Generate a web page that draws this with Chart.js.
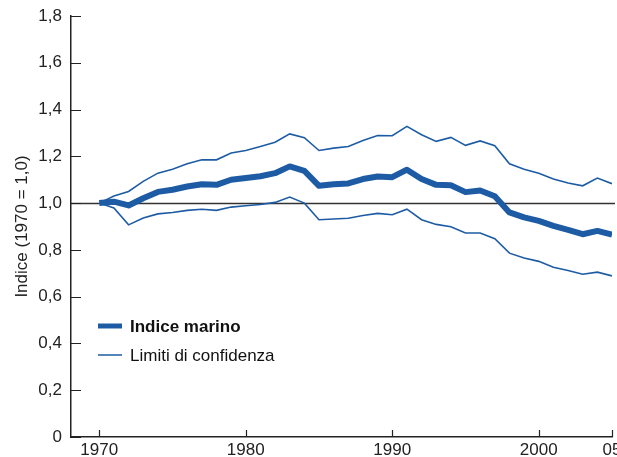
<!DOCTYPE html>
<html>
<head>
<meta charset="utf-8">
<script src="https://cdn.jsdelivr.net/npm/chart.js@4.4.0/dist/chart.umd.min.js"></script>
<style>
  html, body { margin: 0; padding: 0; background: #fff; }
  #wrap { width: 617px; height: 457px; }
</style>
</head>
<body>
<div id="wrap"><canvas id="lineChart"></canvas></div>
<script>
const years = [1970, 1971, 1972, 1973, 1974, 1975, 1976, 1977, 1978, 1979,
  1980, 1981, 1982, 1983, 1984, 1985, 1986, 1987, 1988, 1989,
  1990, 1991, 1992, 1993, 1994, 1995, 1996, 1997, 1998, 1999,
  2000, 2001, 2002, 2003, 2004, 2005];

const indiceMarino = [1.0, 1.006, 0.99, 1.021, 1.048, 1.057, 1.071, 1.081, 1.078, 1.10,
  1.107, 1.115, 1.128, 1.157, 1.138, 1.074, 1.081, 1.084, 1.103, 1.114,
  1.111, 1.143, 1.103, 1.078, 1.076, 1.047, 1.054, 1.029, 0.96, 0.939,
  0.924, 0.903, 0.886, 0.867, 0.881, 0.865];

const limiteSuperiore = [1.0, 1.03, 1.05, 1.093, 1.128, 1.145, 1.168, 1.185, 1.185, 1.214,
  1.225, 1.242, 1.26, 1.296, 1.28, 1.225, 1.235, 1.242, 1.268, 1.289,
  1.288, 1.328, 1.292, 1.264, 1.281, 1.247, 1.266, 1.245, 1.168, 1.145,
  1.128, 1.103, 1.086, 1.074, 1.107, 1.083];

const limiteInferiore = [1.0, 0.979, 0.907, 0.936, 0.954, 0.96, 0.969, 0.974, 0.969, 0.983,
  0.989, 0.994, 1.003, 1.026, 1.0, 0.929, 0.932, 0.935, 0.947, 0.956,
  0.95, 0.974, 0.929, 0.909, 0.899, 0.872, 0.872, 0.848, 0.786, 0.765,
  0.751, 0.726, 0.712, 0.696, 0.705, 0.689];

const xTicks = [1970, 1980, 1990, 2000, 2005];
const yTicks = [0, 0.2, 0.4, 0.6, 0.8, 1.0, 1.2, 1.4, 1.6, 1.8];

const BLU = "#1d5ca4";
const FONT = "'Liberation Sans', Arial, Helvetica, sans-serif";

Chart.defaults.font.family = FONT;
Chart.defaults.font.size = 17;
Chart.defaults.color = "#222";

const toPoints = (vals) => years.map((yr, i) => ({ x: yr, y: vals[i] }));

// linea di riferimento a 1,0, tacche interne e legenda
const decorations = {
  id: "decorations",
  beforeDatasetsDraw(chart) {
    const { ctx, chartArea, scales: { y } } = chart;
    const py = Math.round(y.getPixelForValue(1)) + 0.5;
    ctx.save();
    ctx.strokeStyle = "#333";
    ctx.lineWidth = 1.5;
    ctx.beginPath();
    ctx.moveTo(chartArea.left, py);
    ctx.lineTo(chartArea.right + 3, py);
    ctx.stroke();
    ctx.restore();
  },
  afterDraw(chart) {
    const { ctx, chartArea, scales: { x, y } } = chart;
    ctx.save();
    ctx.strokeStyle = "#222";
    ctx.lineWidth = 1.2;
    ctx.beginPath();
    yTicks.forEach((v) => {
      const py = Math.round(y.getPixelForValue(v)) + 0.5;
      ctx.moveTo(chartArea.left, py);
      ctx.lineTo(chartArea.left + 10, py);
    });
    xTicks.forEach((v) => {
      const px = Math.round(x.getPixelForValue(v)) + 0.5;
      ctx.moveTo(px, chartArea.bottom);
      ctx.lineTo(px, chartArea.bottom - 7);
    });
    ctx.stroke();

    // legenda
    const lx = chartArea.left + 27;
    ctx.strokeStyle = BLU;
    ctx.lineWidth = 5;
    ctx.beginPath();
    ctx.moveTo(lx, 326);
    ctx.lineTo(lx + 24, 326);
    ctx.stroke();
    ctx.lineWidth = 1.5;
    ctx.beginPath();
    ctx.moveTo(lx, 355);
    ctx.lineTo(lx + 24, 355);
    ctx.stroke();

    ctx.fillStyle = "#111";
    ctx.textBaseline = "middle";
    ctx.font = "bold 17px " + FONT;
    ctx.fillText("Indice marino", lx + 32, 327);
    ctx.font = "17px " + FONT;
    ctx.fillText("Limiti di confidenza", lx + 32, 356);
    ctx.restore();
  },
};

const ctx = document.getElementById("lineChart").getContext("2d");
new Chart(ctx, {
  type: "line",
  data: {
    datasets: [
      {
        label: "Indice marino",
        data: toPoints(indiceMarino),
        borderColor: BLU,
        borderWidth: 6,
        borderJoinStyle: "round",
        pointRadius: 0,
        tension: 0,
      },
      {
        label: "Limiti di confidenza",
        data: toPoints(limiteSuperiore),
        borderColor: BLU,
        borderWidth: 1.6,
        pointRadius: 0,
        tension: 0,
      },
      {
        label: "Limiti di confidenza (inf.)",
        data: toPoints(limiteInferiore),
        borderColor: BLU,
        borderWidth: 1.6,
        pointRadius: 0,
        tension: 0,
      },
    ],
  },
  options: {
    responsive: true,
    maintainAspectRatio: false,
    animation: false,
    layout: { padding: { top: 16, right: 5, left: 0, bottom: 0 } },
    plugins: {
      legend: { display: false },
      tooltip: { enabled: false },
    },
    scales: {
      x: {
        type: "linear",
        min: 1968.07,
        max: 2005,
        grid: { display: false, drawTicks: false },
        border: { display: true, color: "#222", width: 1.5 },
        ticks: {
          padding: 3,
          maxRotation: 0,
          callback: (v) => (v === 2005 ? "05" : String(v)),
        },
        afterBuildTicks: (scale) => {
          scale.ticks = xTicks.map((v) => ({ value: v }));
        },
        afterFit: (scale) => {
          scale.height = 20;
          scale.paddingLeft = 0;
          scale.paddingRight = 0;
        },
      },
      y: {
        min: 0,
        max: 1.8,
        grid: { display: false, drawTicks: false },
        border: { display: true, color: "#222", width: 1.5 },
        ticks: {
          padding: 9,
          callback: (v) => (v === 0 ? "0" : v.toFixed(1).replace(".", ",")),
        },
        afterBuildTicks: (scale) => {
          scale.ticks = yTicks.map((v) => ({ value: v }));
        },
        title: {
          display: true,
          text: "Indice (1970 = 1,0)",
          color: "#222",
          font: { size: 17 },
          padding: { top: 12, bottom: 0 },
        },
        afterFit: (scale) => {
          scale.width = 71;
          scale.paddingTop = 0;
          scale.paddingBottom = 0;
        },
      },
    },
  },
  plugins: [decorations],
});
</script>
</body>
</html>
